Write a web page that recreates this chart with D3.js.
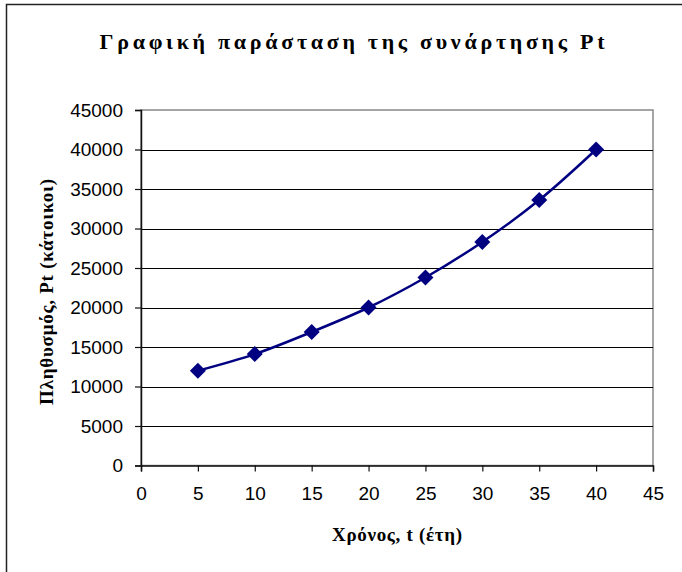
<!DOCTYPE html>
<html>
<head>
<meta charset="utf-8">
<script src="https://cdn.jsdelivr.net/npm/d3@7"></script>
<style>
  body { margin: 0; background: #fff; }
  svg { display: block; }
</style>
</head>
<body>
<div id="chart"></div>
<script>
// years and population
var years = [5, 10, 15, 20, 25, 30, 35, 40]
var population = [12000, 14100, 16900, 20000, 23800, 28300, 33600, 40000]
var xTicks = [0, 5, 10, 15, 20, 25, 30, 35, 40, 45]
var yTicks = [0, 5000, 10000, 15000, 20000, 25000, 30000, 35000, 40000, 45000]
var title = "Γραφική παράσταση της συνάρτησης Pt"
var xTitle = "Χρόνος, t (έτη)"
var yTitle = "Πληθυσμός, Pt (κάτοικοι)"

var width = 682, height = 572
var plot = { left: 141, right: 653, top: 110, bottom: 465.5 }
var lineColor = '#000080'

var svg = d3.select("#chart").append("svg")
    .attr("width", width)
    .attr("height", height)

// outer chart frame, cut off at right and bottom like the picture
svg.append("rect")
    .attr("x", 6.5).attr("y", 4.5)
    .attr("width", 720).attr("height", 620)
    .attr("fill", "none")
    .attr("stroke", "#222")
    .attr("stroke-width", 1.5)

var x = d3.scaleLinear().domain([0, 45]).range([plot.left, plot.right])
var y = d3.scaleLinear().domain([0, 45000]).range([plot.bottom, plot.top])

// plot area border (grey)
svg.append("rect")
    .attr("x", plot.left).attr("y", plot.top)
    .attr("width", plot.right - plot.left)
    .attr("height", plot.bottom - plot.top)
    .attr("fill", "none")
    .attr("stroke", "#888")
    .attr("stroke-width", 1.5)

// horizontal gridlines
svg.append("g").selectAll("line")
    .data(yTicks.filter(d => d > 0 && d < 45000))
    .enter().append("line")
    .attr("x1", plot.left).attr("x2", plot.right)
    .attr("y1", d => Math.round(y(d)) + 0.5)
    .attr("y2", d => Math.round(y(d)) + 0.5)
    .attr("stroke", "#000")
    .attr("stroke-width", 1)

var xAxis = d3.axisBottom(x).tickValues(xTicks).tickSize(6).tickPadding(15)
    .tickFormat(d3.format("d"))
var yAxis = d3.axisLeft(y).tickValues(yTicks).tickSize(6).tickPadding(12)
    .tickFormat(d3.format("d"))

var gx = svg.append("g")
    .attr("transform", "translate(0," + plot.bottom + ")")
    .call(xAxis)
var gy = svg.append("g")
    .attr("transform", "translate(" + plot.left + ",0)")
    .call(yAxis)

;[gx, gy].forEach(function(g) {
    g.select(".domain").attr("stroke", "#111").attr("stroke-width", 1.5)
    g.selectAll(".tick line").attr("stroke", "#111").attr("stroke-width", 1.2)
    g.selectAll(".tick text")
        .attr("fill", "#000")
        .style("font-family", "Liberation Sans, Arial, sans-serif")
        .style("font-size", "19px")
})
gx.selectAll(".tick text").attr("dy", "0.71em")

// smoothed line
var pts = years.map((t, i) => [t, population[i]])
var line = d3.line()
    .x(d => x(d[0]))
    .y(d => y(d[1]))
    .curve(d3.curveCatmullRom.alpha(0.5))

svg.append("path")
    .datum(pts)
    .attr("d", line)
    .attr("fill", "none")
    .attr("stroke", lineColor)
    .attr("stroke-width", 2.5)

// diamond markers
svg.append("g").selectAll("path")
    .data(pts)
    .enter().append("path")
    .attr("transform", d => "translate(" + x(d[0]) + "," + y(d[1]) + ")")
    .attr("d", "M0,-8L8,0L0,8L-8,0Z")
    .attr("fill", lineColor)

// titles
var serif = "Liberation Serif, Times New Roman, serif"
svg.append("text")
    .attr("x", 352).attr("y", 49)
    .attr("text-anchor", "middle")
    .attr("textLength", 505)
    .attr("lengthAdjust", "spacing")
    .style("font-family", serif)
    .style("font-weight", "bold")
    .style("font-size", "22px")
    .text(title)

svg.append("text")
    .attr("x", 397).attr("y", 541)
    .attr("text-anchor", "middle")
    .attr("textLength", 130)
    .attr("lengthAdjust", "spacing")
    .style("font-family", serif)
    .style("font-weight", "bold")
    .style("font-size", "19px")
    .text(xTitle)

svg.append("text")
    .attr("transform", "translate(53,292) rotate(-90)")
    .attr("text-anchor", "middle")
    .attr("textLength", 226)
    .attr("lengthAdjust", "spacing")
    .style("font-family", serif)
    .style("font-weight", "bold")
    .style("font-size", "19px")
    .text(yTitle)
</script>
</body>
</html>
